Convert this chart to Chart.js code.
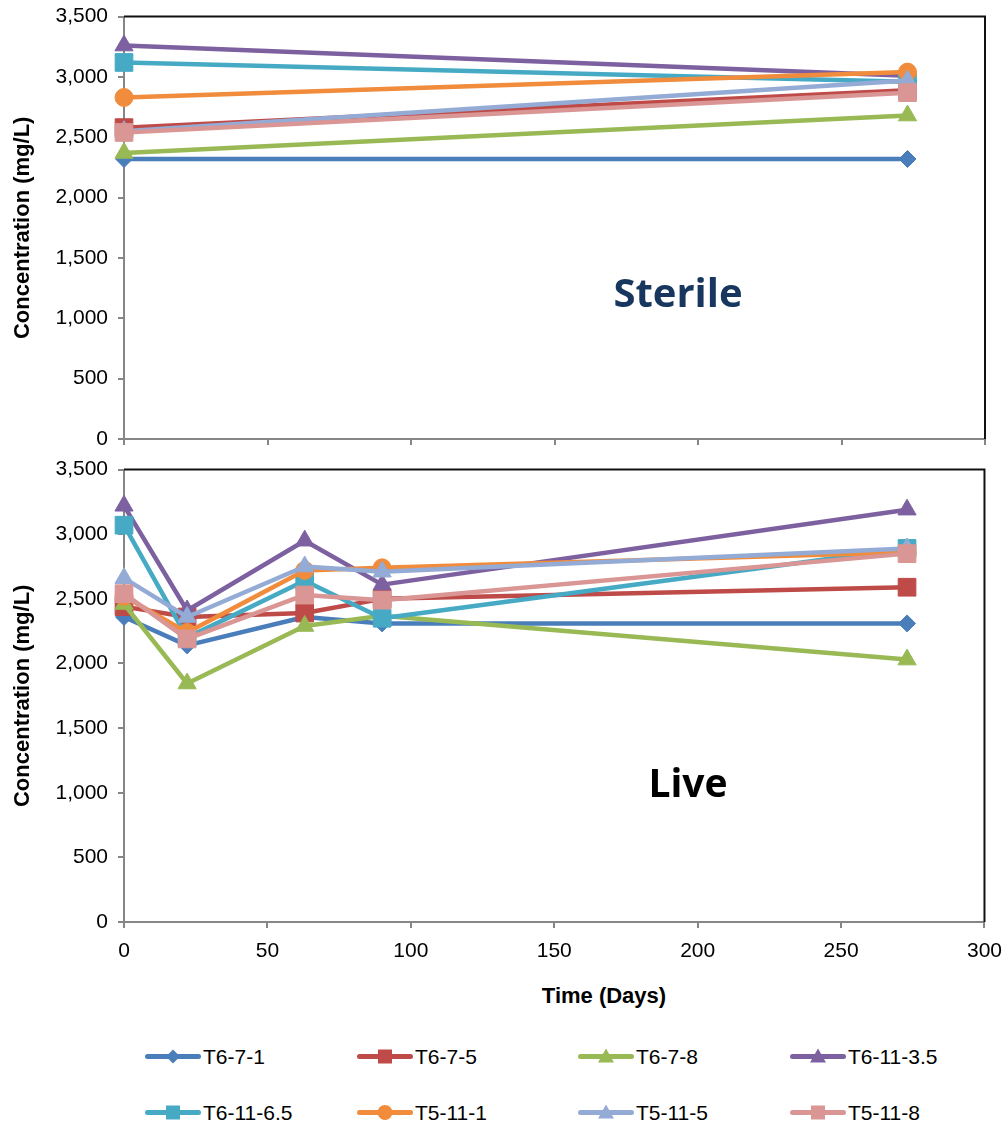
<!DOCTYPE html>
<html>
<head>
<meta charset="utf-8">
<title>Concentration over time</title>
<script src="https://cdn.jsdelivr.net/npm/chart.js@4.4.1/dist/chart.umd.min.js"></script>
<style>
  html, body { margin: 0; padding: 0; background: #fff; }
  #page { position: relative; width: 1005px; height: 1121px; overflow: hidden;
          font-family: "Liberation Sans", Arial, sans-serif; }
  canvas { position: absolute; left: 0; }
  #cSterile { top: -6px; }
  #cLive { top: 447px; }
  .tag { position: absolute; font-family: "Open Sans", sans-serif; font-weight: 700;
         transform: translate(-50%, -50%); line-height: 1; white-space: nowrap; }
  #xTitle { position: absolute; left: 604px; top: 996px; transform: translate(-50%, -50%);
            font-weight: 700; font-size: 22px; color: #000; line-height: 1; white-space: nowrap; }
  .leg { position: absolute; display: flex; align-items: center; font-size: 21px; color: #000;
         transform: translateY(-50%); white-space: nowrap; line-height: 1; }
  .leg svg { display: block; margin-right: 2px; }
</style>
</head>
<body>
<div id="page">
  <canvas id="cSterile" width="1005" height="469"></canvas>
  <canvas id="cLive" width="1013" height="533"></canvas>
  <div class="tag" style="left:678px; top:292px; font-size:40px; color:#17375E;">Sterile</div>
  <div class="tag" style="left:688px; top:781px; font-size:39px; color:#000;">Live</div>
  <div id="xTitle">Time (Days)</div>
  <div id="legend"></div>
</div>
<script>
// ---- data ----
const seriesNames = ['T6-7-1', 'T6-7-5', 'T6-7-8', 'T6-11-3.5', 'T6-11-6.5', 'T5-11-1', 'T5-11-5', 'T5-11-8'];

// sampling days (Time, Days)
const sterileDays = [0, 273];
const liveDays = [0, 22, 63, 90, 273];

// sterile concentrations (mg/L), one list per series
const sterile_T6_7_1   = [2320, 2320];
const sterile_T6_7_5   = [2580, 2890];
const sterile_T6_7_8   = [2370, 2680];
const sterile_T6_11_35 = [3260, 3010];
const sterile_T6_11_65 = [3120, 2960];
const sterile_T5_11_1  = [2830, 3040];
const sterile_T5_11_5  = [2550, 2970];
const sterile_T5_11_8  = [2540, 2870];

// live concentrations (mg/L), one list per series
const live_T6_7_1   = [2360, 2140, 2360, 2310, 2310];
const live_T6_7_5   = [2440, 2360, 2390, 2500, 2590];
const live_T6_7_8   = [2460, 1845, 2290, 2370, 2030];
const live_T6_11_35 = [3220, 2410, 2950, 2610, 3190];
const live_T6_11_65 = [3070, 2200, 2640, 2350, 2890];
const live_T5_11_1  = [2520, 2240, 2720, 2740, 2860];
const live_T5_11_5  = [2660, 2360, 2750, 2710, 2890];
const live_T5_11_8  = [2540, 2190, 2530, 2490, 2850];

const sterileSeries = [sterile_T6_7_1, sterile_T6_7_5, sterile_T6_7_8, sterile_T6_11_35,
                       sterile_T6_11_65, sterile_T5_11_1, sterile_T5_11_5, sterile_T5_11_8];
const liveSeries = [live_T6_7_1, live_T6_7_5, live_T6_7_8, live_T6_11_35,
                    live_T6_11_65, live_T5_11_1, live_T5_11_5, live_T5_11_8];

// axis ticks
const yTicks = { min: 0, max: 3500, step: 500 };
const xTicks = { min: 0, max: 300, step: 50 };

// ---- styling ----
const colors = ['#4A7EBB', '#BE4B48', '#98B954', '#7D60A0', '#46AAC5', '#F08C3C', '#94ABD6', '#D99694'];
const markers = ['rectRot', 'rect', 'triangle', 'triangle', 'rect', 'circle', 'triangle', 'rect'];
const markerRadius = { rectRot: 8.5, rect: 12.5, triangle: 10.5, circle: 9 };

const FONT = '"Liberation Sans", Arial, sans-serif';
const AXIS_GREY = '#868686';

// plot frame on the top and right side
const framePlugin = {
  id: 'frame',
  beforeDatasetsDraw(chart) {
    const { ctx, chartArea: a } = chart;
    ctx.save();
    ctx.strokeStyle = '#111';
    ctx.lineWidth = 2;
    ctx.beginPath();
    ctx.moveTo(a.left, a.top);
    ctx.lineTo(a.right, a.top);
    ctx.lineTo(a.right, a.bottom);
    ctx.stroke();
    ctx.restore();
  }
};

function buildDatasets(days, series) {
  return series.map((vals, i) => ({
    label: seriesNames[i],
    data: days.map((d, k) => ({ x: d, y: vals[k] })),
    borderColor: colors[i],
    backgroundColor: colors[i],
    pointBackgroundColor: colors[i],
    pointBorderColor: colors[i],
    pointBorderWidth: 1,
    pointStyle: markers[i],
    pointRadius: markerRadius[markers[i]],
    pointHoverRadius: markerRadius[markers[i]],
    borderWidth: 4.5,
    borderJoinStyle: 'round',
    tension: 0,
    clip: false,
    order: series.length - 1 - i
  }));
}

function makeChart(canvasId, days, series, cfg) {
  return new Chart(document.getElementById(canvasId), {
    type: 'line',
    data: { datasets: buildDatasets(days, series) },
    plugins: [framePlugin],
    options: {
      responsive: false,
      animation: false,
      devicePixelRatio: 1,
      layout: { padding: { top: 22, right: 20, left: 0, bottom: 0 } },
      plugins: { legend: { display: false }, tooltip: { enabled: false } },
      scales: {
        x: {
          type: 'linear',
          min: xTicks.min, max: xTicks.max,
          ticks: { stepSize: xTicks.step, display: cfg.showX, color: '#000',
                   padding: 11, maxRotation: 0, font: { family: FONT, size: 21 } },
          grid: { drawOnChartArea: false, drawTicks: true, tickLength: 6,
                  color: AXIS_GREY, lineWidth: 2 },
          border: { color: AXIS_GREY, width: 2 },
          afterFit(s) { s.height = cfg.xHeight; }
        },
        y: {
          min: yTicks.min, max: yTicks.max,
          ticks: { stepSize: yTicks.step, color: '#000', padding: 10,
                   font: { family: FONT, size: 21 },
                   callback: v => v.toLocaleString('en-US') },
          grid: { drawOnChartArea: false, drawTicks: true, tickLength: 6,
                  color: AXIS_GREY, lineWidth: 2 },
          border: { color: AXIS_GREY, width: 2 },
          title: { display: true, text: 'Concentration (mg/L)', color: '#000',
                   font: { family: FONT, size: 22, weight: 'bold' },
                   padding: { top: 10, bottom: 0 } },
          afterFit(s) { s.width = 124; }
        }
      }
    }
  });
}

makeChart('cSterile', sterileDays, sterileSeries, { xHeight: 24, showX: false });
makeChart('cLive', liveDays, liveSeries, { xHeight: 58, showX: true });

// ---- legend ----
function markerSvg(style, color) {
  const cx = 28, cy = 10;
  switch (style) {
    case 'rectRot': return `<polygon points="${cx-7},${cy} ${cx},${cy-7} ${cx+7},${cy} ${cx},${cy+7}" fill="${color}"/>`;
    case 'rect': return `<rect x="${cx-7}" y="${cy-7}" width="14" height="14" fill="${color}"/>`;
    case 'triangle': return `<polygon points="${cx-8},${cy+6} ${cx+8},${cy+6} ${cx},${cy-8}" fill="${color}"/>`;
    default: return `<circle cx="${cx}" cy="${cy}" r="7.5" fill="${color}"/>`;
  }
}
const legendCols = [145, 357, 578, 790];
const legendRows = [1056, 1112];
const legendBox = document.getElementById('legend');
seriesNames.forEach((name, i) => {
  const item = document.createElement('div');
  item.className = 'leg';
  item.style.left = legendCols[i % 4] + 'px';
  item.style.top = legendRows[Math.floor(i / 4)] + 'px';
  item.innerHTML =
    `<svg width="56" height="20" viewBox="0 0 56 20">` +
    `<line x1="2.5" y1="10" x2="53.5" y2="10" stroke="${colors[i]}" stroke-width="5" stroke-linecap="round"/>` +
    markerSvg(markers[i], colors[i]) + `</svg><span>${name}</span>`;
  legendBox.appendChild(item);
});
</script>
</body>
</html>
